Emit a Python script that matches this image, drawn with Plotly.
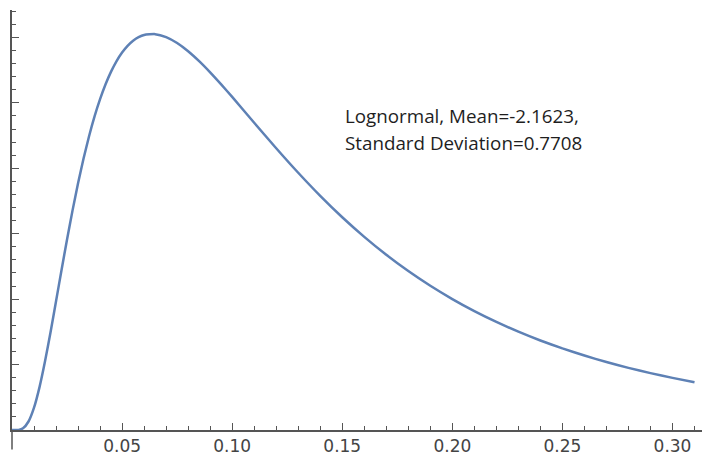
import plotly.graph_objects as go

# Curve points
x_vals = [0.0, 0.003, 0.005, 0.0075, 0.01, 0.0125, 0.015, 0.0175, 0.02, 0.0225, 0.025,
          0.0275, 0.03, 0.0325, 0.035, 0.0375, 0.04, 0.0425, 0.045, 0.0475, 0.05, 0.0525,
          0.055, 0.0575, 0.06, 0.065,
          0.07, 0.075, 0.08, 0.085, 0.09, 0.095, 0.10, 0.11, 0.12, 0.13, 0.14, 0.15,
          0.16, 0.17, 0.18, 0.19, 0.20, 0.21, 0.22, 0.23, 0.24, 0.25, 0.26, 0.27,
          0.28, 0.29, 0.30, 0.31]
y_vals = [0.0, 0.002, 0.026, 0.130, 0.341, 0.655, 1.049, 1.495, 1.968, 2.447, 2.912,
          3.357, 3.770, 4.149, 4.490, 4.793, 5.057, 5.285, 5.478, 5.639, 5.770, 5.872,
          5.950, 6.004, 6.038, 6.051,
          6.006, 5.915, 5.789, 5.637, 5.466, 5.282, 5.091, 4.697, 4.307, 3.932, 3.579, 3.252,
          2.952, 2.678, 2.429, 2.204, 2.001, 1.817, 1.652, 1.503, 1.368, 1.247, 1.138, 1.039,
          0.950, 0.869, 0.797, 0.730]

x_tick_vals = [0.05, 0.10, 0.15, 0.20, 0.25, 0.30]
x_tick_text = ["0.05", "0.10", "0.15", "0.20", "0.25", "0.30"]
y_tick_vals = [1, 2, 3, 4, 5, 6]

label_lines = ["Lognormal, Mean=-2.1623,", "Standard Deviation=0.7708"]
label_y = [4.80, 4.39]

axis_color = "#555555"
curve_color = "rgb(94,129,181)"

fig = go.Figure()
fig.add_trace(go.Scatter(x=x_vals, y=y_vals, mode="lines",
                         line=dict(color=curve_color, width=2.5, shape="spline", smoothing=0.5),
                         hoverinfo="skip", showlegend=False))

fig.update_layout(
    width=702, height=455,
    margin=dict(l=12, r=0, t=10, b=24.5),
    paper_bgcolor="white", plot_bgcolor="white",
    showlegend=False,
    xaxis=dict(range=[0, 0.3134], showgrid=False, zeroline=False,
               showline=True, linecolor=axis_color, linewidth=1.5,
               tickmode="array", tickvals=x_tick_vals, ticktext=x_tick_text,
               ticks="inside", ticklen=7, tickwidth=1.2, tickcolor=axis_color,
               minor=dict(dtick=0.01, tick0=0, ticks="inside", ticklen=4,
                          tickwidth=1, tickcolor=axis_color, showgrid=False),
               tickfont=dict(family="DejaVu Sans", size=17, color="#444444")),
    yaxis=dict(range=[0, 6.42], showgrid=False, zeroline=False,
               showline=True, linecolor=axis_color, linewidth=1.5,
               tickmode="array", tickvals=y_tick_vals, showticklabels=False,
               ticks="inside", ticklen=7, tickwidth=1.2, tickcolor=axis_color,
               minor=dict(dtick=0.2, tick0=0, ticks="inside", ticklen=4,
                          tickwidth=1, tickcolor=axis_color, showgrid=False)),
)

# y axis extends a little below the x axis
fig.add_shape(type="line", xref="paper", yref="paper",
              x0=0, x1=0, y0=-19.5 / 420.5, y1=0,
              line=dict(color=axis_color, width=1.5), layer="above")

for txt, yv in zip(label_lines, label_y):
    fig.add_annotation(x=0.1503, y=yv, xref="x", yref="y", xanchor="left", yanchor="middle",
                       text=txt, showarrow=False, align="left",
                       font=dict(family="Open Sans", size=18.8, color="#1e1e1e"))

fig.write_html("out.html")
